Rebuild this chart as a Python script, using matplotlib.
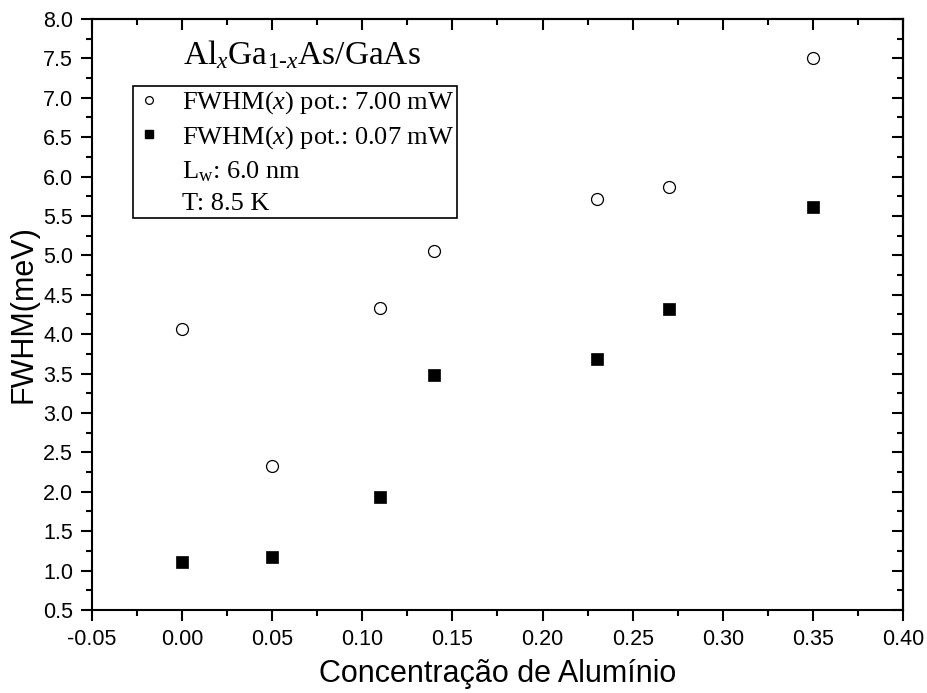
import matplotlib
matplotlib.use("Agg")
import matplotlib.pyplot as plt
from matplotlib.ticker import MultipleLocator, FormatStrFormatter
from matplotlib.lines import Line2D

# ---- data ----
x_conc = [0.00, 0.05, 0.11, 0.14, 0.23, 0.27, 0.35]
fwhm_high = [4.07, 2.33, 4.33, 5.05, 5.72, 5.87, 7.50]   # 7.00 mW (open circles)
fwhm_low = [1.11, 1.17, 1.94, 3.48, 3.68, 4.32, 5.62]    # 0.07 mW (filled squares)

label_high = r"FWHM($x$) pot.: 7.00 mW"
label_low = r"FWHM($x$) pot.: 0.07 mW"
label_lw = r"L$_{\mathrm{w}}$: 6.0 nm"
label_t = "T: 8.5 K"
title_txt = r"Al$_{x}$Ga$_{\mathrm{1\text{-}}x}$As/GaAs"

plt.rcParams['mathtext.fontset'] = 'custom'
plt.rcParams['mathtext.rm'] = 'Liberation Serif'
plt.rcParams['mathtext.it'] = 'Liberation Serif:italic'
plt.rcParams['mathtext.bf'] = 'Liberation Serif:bold'
plt.rcParams['font.family'] = ['Liberation Sans', 'DejaVu Sans']

fig = plt.figure(figsize=(9.27, 6.93), dpi=100)
ax = fig.add_axes([0.0992, 0.1198, 0.9741 - 0.0992, 0.9726 - 0.1198])

ax.plot(x_conc, fwhm_high, linestyle='none', marker='o', markersize=8.6,
        markerfacecolor='white', markeredgecolor='black', markeredgewidth=0.9)
ax.plot(x_conc, fwhm_low, linestyle='none', marker='s', markersize=8.4,
        markerfacecolor='black', markeredgecolor='black', markeredgewidth=0.5)

ax.set_xlim(-0.05, 0.40)
ax.set_ylim(0.5, 8.0)
ax.xaxis.set_major_locator(MultipleLocator(0.05))
ax.xaxis.set_minor_locator(MultipleLocator(0.025))
ax.yaxis.set_major_locator(MultipleLocator(0.5))
ax.yaxis.set_minor_locator(MultipleLocator(0.25))
ax.xaxis.set_major_formatter(FormatStrFormatter('%.2f'))
ax.yaxis.set_major_formatter(FormatStrFormatter('%.1f'))

for s in ax.spines.values():
    s.set_linewidth(1.5)

ax.tick_params(which='major', direction='out', length=8, width=1.5, labelsize=15.5, pad=5.5)
ax.tick_params(which='minor', direction='out', length=4, width=1.5)

# inward ticks on top and right
sx = ax.secondary_xaxis('top')
sx.xaxis.set_major_locator(MultipleLocator(0.05))
sx.xaxis.set_minor_locator(MultipleLocator(0.025))
sx.tick_params(which='major', direction='in', length=8, width=1.5, labeltop=False)
sx.tick_params(which='minor', direction='in', length=4, width=1.5)
sy = ax.secondary_yaxis('right')
sy.yaxis.set_major_locator(MultipleLocator(0.5))
sy.yaxis.set_minor_locator(MultipleLocator(0.25))
sy.tick_params(which='major', direction='in', length=8, width=1.5, labelright=False)
sy.tick_params(which='minor', direction='in', length=4, width=1.5)
for s in list(sx.spines.values()) + list(sy.spines.values()):
    s.set_linewidth(1.5)

ax.set_xlabel("Concentração de Alumínio", fontsize=22, labelpad=7)
ax.set_ylabel("FWHM(meV)", fontsize=22, labelpad=3)

ax.text(0.259, 0.924, title_txt, transform=ax.transAxes, ha='center', va='baseline',
        fontsize=24, family=['Liberation Serif', 'DejaVu Serif'])

handles = [
    Line2D([], [], linestyle='none', marker='o', markersize=8.6,
           markerfacecolor='white', markeredgecolor='black', markeredgewidth=0.9),
    Line2D([], [], linestyle='none', marker='s', markersize=8.4,
           markerfacecolor='black', markeredgecolor='black'),
    Line2D([], [], linestyle='none'),
    Line2D([], [], linestyle='none'),
]
leg = ax.legend(handles, [label_high, label_low, label_lw, label_t],
                loc='upper left', bbox_to_anchor=(0.050, 0.886), borderaxespad=0,
                prop={'family': 'Liberation Serif', 'size': 19},
                frameon=True, fancybox=False, edgecolor='black', framealpha=1,
                borderpad=0.12, handlelength=1.0, handletextpad=0.75,
                labelspacing=0.30, markerscale=0.65)
leg.get_frame().set_linewidth(1.2)

fig.savefig("out.png", dpi=100)
